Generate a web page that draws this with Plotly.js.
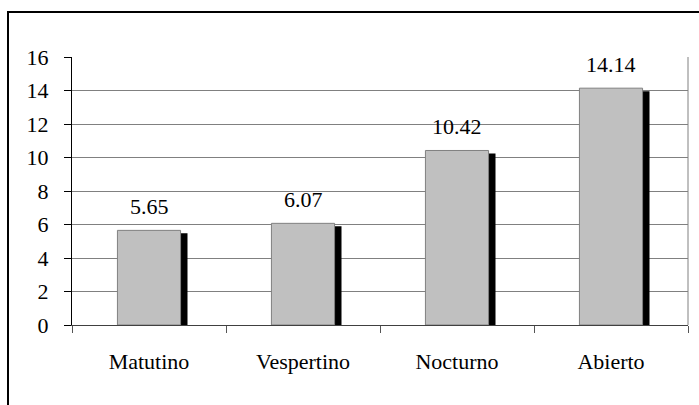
<!DOCTYPE html>
<html>
<head>
<meta charset="utf-8">
<script src="https://cdn.plot.ly/plotly-3.0.1.min.js"></script>
<style>
html,body{margin:0;padding:0;background:#fff;overflow:hidden;}
#wrap{position:relative;width:699px;height:405px;overflow:hidden;}
#chart{width:699px;height:405px;}
#frame{position:absolute;left:7px;top:11px;width:720px;height:430px;border:2px solid #000;pointer-events:none;}
</style>
</head>
<body>
<div id="wrap"><div id="chart"></div><div id="frame"></div></div>
<script>
const categories = ["Matutino", "Vespertino", "Nocturno", "Abierto"];
const values = [5.65, 6.07, 10.42, 14.14];
const valueLabels = ["5.65", "6.07", "10.42", "14.14"];
const yTicks = [0, 2, 4, 6, 8, 10, 12, 14, 16];

const FONT = "'Liberation Serif', 'Times New Roman', serif";
const plotH = 268;           // plot area height in px
const yMax = 16;
const depth = 3 * yMax / plotH; // shadow drop (style)

const shadow = {
  type: "bar", x: categories, y: values.map(v => v - depth),
  width: 0.41, offset: -0.16,
  marker: {color: "#000000", line: {width: 0}},
  hoverinfo: "skip", showlegend: false
};
const bars = {
  type: "bar", x: categories, y: values,
  width: 0.41, offset: -0.205,
  marker: {color: "#c0c0c0", line: {color: "#808080", width: 1}},
  showlegend: false
};

const annotations = categories.map((c, i) => ({
  x: c, y: values[i], xref: "x", yref: "y",
  text: valueLabels[i], showarrow: false,
  yanchor: "bottom", xanchor: "center", yshift: 9,
  font: {family: FONT, size: 22, color: "#000"}
}));

const layout = {
  width: 699, height: 405,
  margin: {l: 72, r: 11, t: 57, b: 80},
  paper_bgcolor: "#ffffff", plot_bgcolor: "#ffffff",
  barmode: "overlay",
  font: {family: FONT, size: 22, color: "#000"},
  xaxis: {
    type: "category", tickson: "boundaries",
    ticks: "outside", ticklen: 7, tickcolor: "#555555", tickwidth: 1,
    showline: true, linecolor: "#404040", linewidth: 1,
    showgrid: false, zeroline: false,
    ticklabelstandoff: 17,
    tickfont: {family: FONT, size: 22, color: "#000"},
    range: [-0.5, 3.5]
  },
  yaxis: {
    range: [0, yMax], tickvals: yTicks, ticktext: yTicks.map(String),
    ticks: "outside", ticklen: 7, tickcolor: "#000", tickwidth: 1,
    showline: true, linecolor: "#000", linewidth: 1,
    showgrid: true, gridcolor: "#808080", gridwidth: 1,
    zeroline: false, ticklabelstandoff: 11,
    tickfont: {family: FONT, size: 22, color: "#000"}
  },
  annotations: annotations,
  shapes: [
    {type: "line", xref: "paper", yref: "paper", x0: 1, x1: 1, y0: 0, y1: 1,
     line: {color: "#808080", width: 1}}
  ]
};

Plotly.newPlot("chart", [shadow, bars], layout, {displayModeBar: false, staticPlot: true});
</script>
</body>
</html>
